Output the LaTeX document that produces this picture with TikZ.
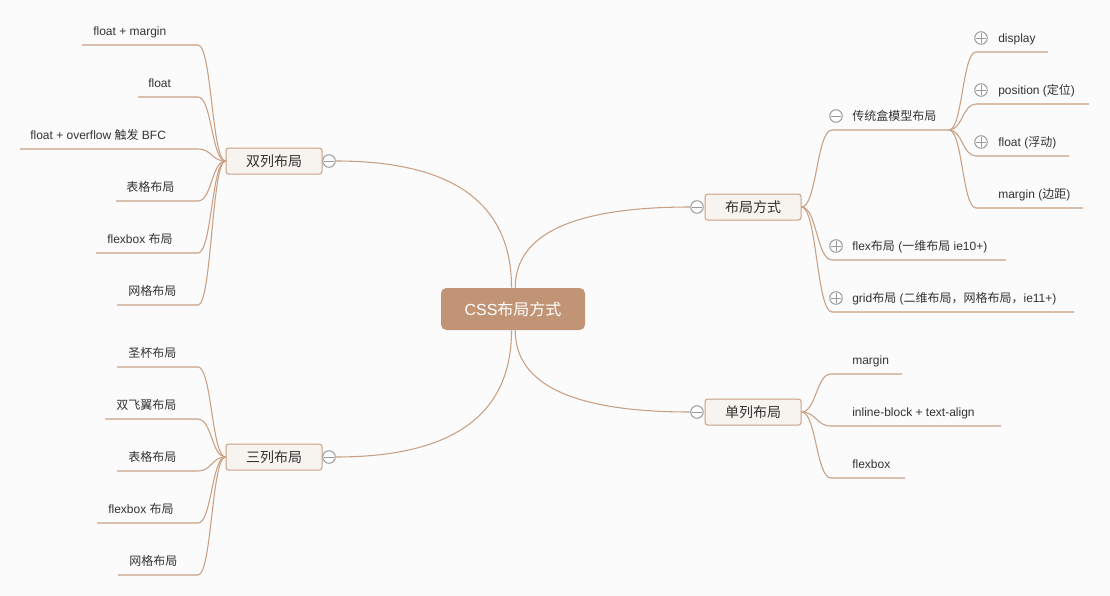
\documentclass[tikz,border=0pt]{standalone}
\usepackage{fontspec}
\setmainfont{Liberation Sans}
\newfontfamily\cjkfont{Noto Sans CJK SC}
\newcommand\zh[1]{{\cjkfont #1}}
\usetikzlibrary{calc}

\definecolor{bgcol}{HTML}{FBFBFB}
\definecolor{linecol}{HTML}{C9A083}
\definecolor{rootfill}{HTML}{C29476}
\definecolor{topicfill}{HTML}{F7F3EE}
\definecolor{iconcol}{HTML}{999999}
\definecolor{inkcol}{HTML}{333333}

\tikzset{
  branch/.style={draw=linecol, line width=0.8pt},
  rootlink/.style={to path={.. controls ($(\tikztostart)!0.667!(\tikztostart |- \tikztotarget)$)
      and ($(\tikztotarget)!0.667!(\tikztostart |- \tikztotarget)$) .. (\tikztotarget)}},
  elbow/.style={to path={.. controls ($(\tikztostart)!0.5!(\tikztostart -| \tikztotarget)$)
      and ($(\tikztotarget)!0.5!(\tikztotarget -| \tikztostart)$) .. (\tikztotarget)}},
  rootbox/.style={rectangle, rounded corners=4pt, fill=rootfill, text=white,
    font=\fontsize{12}{14}\selectfont, minimum width=108pt, minimum height=31.5pt},
  topic/.style={rectangle, rounded corners=2pt, draw=linecol, fill=topicfill, line width=0.75pt,
    text=inkcol, font=\fontsize{10.5}{12}\selectfont, minimum width=72pt, minimum height=19.5pt,
    inner sep=0pt},
  leaf/.style={anchor=base west, inner sep=0pt, text=inkcol, font=\fontsize{9}{11}\selectfont},
  fold/.style={circle, draw=iconcol, fill=white, line width=0.75pt, minimum size=9.4pt, inner sep=0pt},
  minus/.style={fold, path picture={
      \draw[iconcol, line width=0.7pt] ([xshift=1pt]path picture bounding box.west)
        -- ([xshift=-1pt]path picture bounding box.east);}},
  plus/.style={fold, path picture={
      \draw[iconcol, line width=0.7pt] ([xshift=1pt]path picture bounding box.west)
        -- ([xshift=-1pt]path picture bounding box.east)
        ([yshift=-1pt]path picture bounding box.north) -- ([yshift=1pt]path picture bounding box.south);}},
}

\begin{document}
\begin{tikzpicture}[x=0.75pt, y=-0.75pt]
  \fill[bgcol] (0,0) rectangle (1110,596);

  % centre and first level
  \node[rootbox] (root) at (513,309) {CSS\zh{布局方式}};
  \node[topic] (two) at (274,161) {\zh{双列布局}};
  \node[minus] (twofold) at (329,161) {};
  \node[topic] (three) at (274,457) {\zh{三列布局}};
  \node[minus] (threefold) at (329,457) {};
  \node[topic] (way) at (753,207) {\zh{布局方式}};
  \node[minus] (wayfold) at (697,207) {};
  \node[topic] (single) at (753,412) {\zh{单列布局}};
  \node[minus] (singlefold) at (697,412) {};

  \draw[branch] (root.94) to[rootlink] (twofold.east);
  \draw[branch] (root.84) to[rootlink] (wayfold.west);
  \draw[branch] (root.-94) to[rootlink] (threefold.east);
  \draw[branch] (root.-84) to[rootlink] (singlefold.west);

  % 双列布局
  \coordinate (tAs) at (82,45);   \coordinate (tAe) at (198,45);
  \coordinate (tBs) at (138,97);  \coordinate (tBe) at (198,97);
  \coordinate (tCs) at (20,149);  \coordinate (tCe) at (198,149);
  \coordinate (tDs) at (116,201); \coordinate (tDe) at (198,201);
  \coordinate (tEs) at (96,253);  \coordinate (tEe) at (198,253);
  \coordinate (tFs) at (117,305); \coordinate (tFe) at (198,305);
  \node[leaf] (tA) at (93,35) {float + margin};
  \node[leaf] (tB) at (148,87) {float};
  \node[leaf] (tC) at (30,139) {float + overflow \zh{触发} BFC};
  \node[leaf] (tD) at (126,191) {\zh{表格布局}};
  \node[leaf] (tE) at (107,243) {flexbox \zh{布局}};
  \node[leaf] (tF) at (128,295) {\zh{网格布局}};
  \draw[branch] (tAs) -- (tAe) to[elbow] (two.west);
  \draw[branch] (tBs) -- (tBe) to[elbow] (two.west);
  \draw[branch] (tCs) -- (tCe) to[elbow] (two.west);
  \draw[branch] (tDs) -- (tDe) to[elbow] (two.west);
  \draw[branch] (tEs) -- (tEe) to[elbow] (two.west);
  \draw[branch] (tFs) -- (tFe) to[elbow] (two.west);

  % 三列布局
  \coordinate (sAs) at (117,367); \coordinate (sAe) at (198,367);
  \coordinate (sBs) at (105,419); \coordinate (sBe) at (198,419);
  \coordinate (sCs) at (117,471); \coordinate (sCe) at (198,471);
  \coordinate (sDs) at (97,523);  \coordinate (sDe) at (198,523);
  \coordinate (sEs) at (118,575); \coordinate (sEe) at (198,575);
  \node[leaf] (sA) at (128,357) {\zh{圣杯布局}};
  \node[leaf] (sB) at (116,409) {\zh{双飞翼布局}};
  \node[leaf] (sC) at (128,461) {\zh{表格布局}};
  \node[leaf] (sD) at (108,513) {flexbox \zh{布局}};
  \node[leaf] (sE) at (129,565) {\zh{网格布局}};
  \draw[branch] (sAs) -- (sAe) to[elbow] (three.west);
  \draw[branch] (sBs) -- (sBe) to[elbow] (three.west);
  \draw[branch] (sCs) -- (sCe) to[elbow] (three.west);
  \draw[branch] (sDs) -- (sDe) to[elbow] (three.west);
  \draw[branch] (sEs) -- (sEe) to[elbow] (three.west);

  % 布局方式
  \coordinate (mAs) at (832,130); \coordinate (mAe) at (949,130);
  \coordinate (mBs) at (832,260); \coordinate (mBe) at (1006,260);
  \coordinate (mCs) at (832,312); \coordinate (mCe) at (1074,312);
  \node[leaf] (mA) at (852,120) {\zh{传统盒模型布局}};
  \node[leaf] (mB) at (852,250) {flex\zh{布局} (\zh{一维布局} ie10+)};
  \node[leaf] (mC) at (852,302) {grid\zh{布局} (\zh{二维布局，网格布局，}ie11+)};
  \node[minus] (mAfold) at (836,116) {};
  \node[plus] (mBfold) at (836,246) {};
  \node[plus] (mCfold) at (836,298) {};
  \draw[branch] (way.east) to[elbow] (mAs) -- (mAe);
  \draw[branch] (way.east) to[elbow] (mBs) -- (mBe);
  \draw[branch] (way.east) to[elbow] (mCs) -- (mCe);

  % 传统盒模型布局
  \coordinate (gAs) at (976,52);  \coordinate (gAe) at (1048,52);
  \coordinate (gBs) at (976,104); \coordinate (gBe) at (1089,104);
  \coordinate (gCs) at (976,156); \coordinate (gCe) at (1069,156);
  \coordinate (gDs) at (976,208); \coordinate (gDe) at (1083,208);
  \node[leaf] (gA) at (998,42) {display};
  \node[leaf] (gB) at (998,94) {position (\zh{定位})};
  \node[leaf] (gC) at (998,146) {float (\zh{浮动})};
  \node[leaf] (gD) at (998,198) {margin (\zh{边距})};
  \node[plus] (gAfold) at (981,38) {};
  \node[plus] (gBfold) at (981,90) {};
  \node[plus] (gCfold) at (981,142) {};
  \draw[branch] (mAe) to[elbow] (gAs) -- (gAe);
  \draw[branch] (mAe) to[elbow] (gBs) -- (gBe);
  \draw[branch] (mAe) to[elbow] (gCs) -- (gCe);
  \draw[branch] (mAe) to[elbow] (gDs) -- (gDe);

  % 单列布局
  \coordinate (dAs) at (831,374); \coordinate (dAe) at (902,374);
  \coordinate (dBs) at (831,426); \coordinate (dBe) at (1001,426);
  \coordinate (dCs) at (831,478); \coordinate (dCe) at (905,478);
  \node[leaf] (dA) at (852,364) {margin};
  \node[leaf] (dB) at (852,416) {inline-block + text-align};
  \node[leaf] (dC) at (852,468) {flexbox};
  \draw[branch] (single.east) to[elbow] (dAs) -- (dAe);
  \draw[branch] (single.east) to[elbow] (dBs) -- (dBe);
  \draw[branch] (single.east) to[elbow] (dCs) -- (dCe);
\end{tikzpicture}
\end{document}
